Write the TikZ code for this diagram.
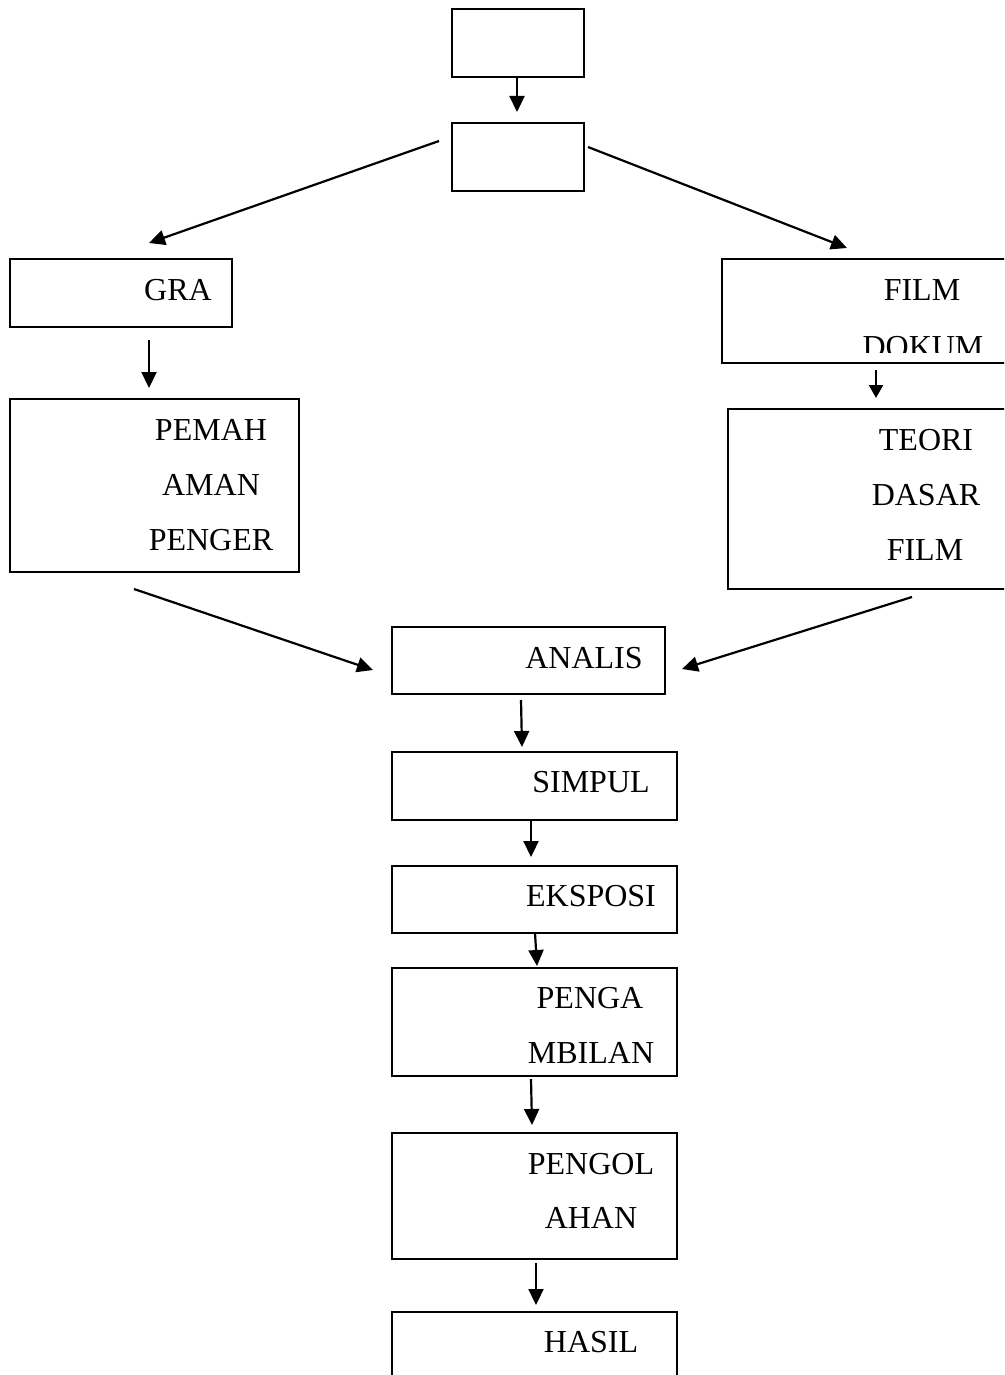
\documentclass[tikz,border=0pt]{standalone}
\usepackage{fontspec}
\setmainfont{Liberation Serif}
\usetikzlibrary{arrows.meta}
\newcommand\lblfont{\fontsize{32}{38}\selectfont}
\begin{document}
\begin{tikzpicture}[x=1pt,y=-1pt,
  box/.style={draw, line width=2pt, inner sep=0pt, rectangle},
  lbl/.style={font=\lblfont, inner sep=0pt, anchor=base},
  arr/.style={line width=2.2pt, -{Triangle[width=15pt,length=16pt]}}]
\clip (0,0) rectangle (1004,1375);
\fill[white] (0,0) rectangle (1004,1375);
% boxes
\node[box, minimum width=132pt, minimum height=68pt] (b1) at (518,43) {};
\node[box, minimum width=132pt, minimum height=68pt] (b2) at (518,157) {};
\node[box, minimum width=222pt, minimum height=68pt] (gra) at (121,293) {};
\node[box, minimum width=289pt, minimum height=173pt] (pemah) at (154.5,485.5) {};
\node[box, minimum width=308pt, minimum height=104pt] (film) at (876,311) {};
\node[box, minimum width=302pt, minimum height=180pt] (teori) at (879,499) {};
\node[box, minimum width=273pt, minimum height=67pt] (analis) at (528.5,660.5) {};
\node[box, minimum width=285pt, minimum height=68pt] (simpul) at (534.5,786) {};
\node[box, minimum width=285pt, minimum height=67pt] (eksposi) at (534.5,899.5) {};
\node[box, minimum width=285pt, minimum height=108pt] (penga) at (534.5,1022) {};
\node[box, minimum width=285pt, minimum height=126pt] (pengol) at (534.5,1196) {};
\node[box, minimum width=285pt, minimum height=108pt] (hasil) at (534.5,1366) {};
% labels
\node[lbl] (t1) at (178,300) {GRA};
\node[lbl] (t2) at (211,440) {PEMAH};
\node[lbl] (t3) at (211,495) {AMAN};
\node[lbl] (t4) at (211,550) {PENGER};
\node[lbl] (t5) at (922,300) {FILM};
\begin{scope}
\clip (700,300) rectangle (1004,352);
\node[lbl] (t6) at (923,357) {DOKUM};
\end{scope}
\node[lbl] (t7) at (926,450) {TEORI};
\node[lbl] (t8) at (926,505) {DASAR};
\node[lbl] (t9) at (925,560) {FILM};
\node[lbl] (t10) at (584,668) {ANALIS};
\node[lbl] (t11) at (591,792) {SIMPUL};
\node[lbl] (t12) at (591,906) {EKSPOSI};
\node[lbl] (t13) at (590,1008) {PENGA};
\node[lbl] (t14) at (591,1063) {MBILAN};
\node[lbl] (t15) at (591,1174) {PENGOL};
\node[lbl] (t16) at (591,1228) {AHAN};
\node[lbl] (t17) at (591,1352) {HASIL};
% connector end points
\coordinate (c1a) at (517,77);   \coordinate (c1b) at (517,112);
\coordinate (c2a) at (439,141);  \coordinate (c2b) at (149,243);
\coordinate (c3a) at (588,147);  \coordinate (c3b) at (847,248);
\coordinate (c4a) at (149,340);  \coordinate (c4b) at (149,388);
\coordinate (c5a) at (876,370);  \coordinate (c5b) at (876,398);
\coordinate (c6a) at (134,589);  \coordinate (c6b) at (373,670);
\coordinate (c7a) at (912,597);  \coordinate (c7b) at (682,669);
\coordinate (c8a) at (521,700);  \coordinate (c8b) at (522,747);
\coordinate (c9a) at (531,820);  \coordinate (c9b) at (531,857);
\coordinate (c10a) at (535,933); \coordinate (c10b) at (537,966);
\coordinate (c11a) at (531,1079);\coordinate (c11b) at (532,1125);
\coordinate (c12a) at (536,1263);\coordinate (c12b) at (536,1305);
% connectors
\draw[arr] (c1a) -- (c1b);
\draw[arr] (c2a) -- (c2b);
\draw[arr] (c3a) -- (c3b);
\draw[arr] (c4a) -- (c4b);
\draw[arr, -{Triangle[width=14pt,length=13pt]}] (c5a) -- (c5b);
\draw[arr] (c6a) -- (c6b);
\draw[arr] (c7a) -- (c7b);
\draw[arr] (c8a) -- (c8b);
\draw[arr] (c9a) -- (c9b);
\draw[arr] (c10a) -- (c10b);
\draw[arr] (c11a) -- (c11b);
\draw[arr] (c12a) -- (c12b);
\end{tikzpicture}
\end{document}
